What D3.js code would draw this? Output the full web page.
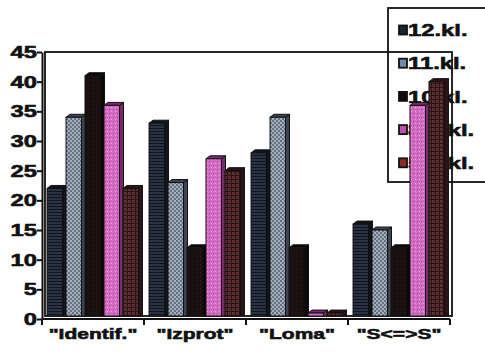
<!DOCTYPE html>
<html>
<head>
<meta charset="utf-8">
<script src="https://cdn.jsdelivr.net/npm/d3@7"></script>
<style>
  body { margin: 0; background: #fff; }
  text { font-family: Arial, "Liberation Sans", sans-serif; font-weight: bold; fill: #111; stroke: #111; stroke-width: 0.6px; }
</style>
</head>
<body>
<div id="chart"></div>
<script>
// --- DATA ---
const categories = ['"Identif."', '"Izprot"', '"Loma"', '"S<=>S"'];
const series = ["12.kl.", "11.kl.", "10.kl.", "8.9.kl.", "5.7.kl."];
const v12 = [22, 33, 28, 16];
const v11 = [34, 23, 34, 15];
const v10 = [41, 12, 12, 12];
const v89 = [36, 27, 1, 36];
const v57 = [22, 25, 1, 40];
const yTicks = [0, 5, 10, 15, 20, 25, 30, 35, 40, 45];

const values = [v12, v11, v10, v89, v57];

// --- SETUP ---
const W = 485, H = 354;
const pLeft = 42, pRight = 450, pTop = 52, pBottom = 319;
const depth = 4, rise = 3;
const stretch = 1.4; // scanned chart text is wide

const svg = d3.select("#chart").append("svg")
  .attr("width", W).attr("height", H);

const defs = svg.append("defs");

// put text at (tx, ty) and widen it horizontally
function placeWide(sel, tx, ty) {
  sel.attr("x", 0).attr("y", 0)
    .attr("transform", (d, i) => `translate(${tx(d, i)},${ty(d, i)}) scale(${stretch},1)`);
}

// patterns (fills of the old printed chart)
function pattern(id, size, bg, draw) {
  const p = defs.append("pattern").attr("id", id)
    .attr("patternUnits", "userSpaceOnUse").attr("width", size).attr("height", size);
  p.append("rect").attr("width", size).attr("height", size).attr("fill", bg);
  draw(p);
}
pattern("p12", 3, "#2a3344", p => p.append("rect").attr("y", 2).attr("width", 3).attr("height", 1).attr("fill", "#10141c"));
pattern("p11", 4, "#a2aebb", p => {
  p.append("circle").attr("cx", 1).attr("cy", 1).attr("r", 0.9).attr("fill", "#4a5666");
  p.append("circle").attr("cx", 3).attr("cy", 3).attr("r", 0.9).attr("fill", "#4a5666");
});
pattern("p10", 4, "#1a1012", p => p.append("rect").attr("width", 1).attr("height", 1).attr("fill", "#2c1c1e"));
pattern("p89", 4, "#d46cc4", p => {
  p.append("rect").attr("x", 1).attr("y", 1).attr("width", 1).attr("height", 1).attr("fill", "#a8409a");
  p.append("rect").attr("x", 3).attr("y", 3).attr("width", 1).attr("height", 1).attr("fill", "#e9a0de");
});
pattern("p57", 4, "#5c2e30", p => {
  p.append("rect").attr("y", 3).attr("width", 4).attr("height", 1).attr("fill", "#2a1416");
  p.append("rect").attr("x", 3).attr("width", 1).attr("height", 4).attr("fill", "#2a1416");
});
const fills = ["url(#p12)", "url(#p11)", "url(#p10)", "url(#p89)", "url(#p57)"];
const sideCol = ["#10141c", "#3c4652", "#0c0808", "#7a2a6e", "#2a1416"];
const swatch = ["#1c2535", "#6f8aa6", "#140c0c", "#c050b0", "#8a2a2a"];

// --- LEGEND (behind the plot) ---
const legend = svg.append("g");
legend.append("rect").attr("x", 388).attr("y", 8).attr("width", 110).attr("height", 174)
  .attr("fill", "#fff").attr("stroke", "#111").attr("stroke-width", 1.8);
legend.selectAll("rect.sw").data(series).join("rect").attr("class", "sw")
  .attr("x", 399).attr("y", (d, i) => 30 + i * 33.2 - 4.5).attr("width", 8).attr("height", 9)
  .attr("fill", (d, i) => swatch[i]).attr("stroke", "#111").attr("stroke-width", 1.8);
legend.selectAll("text").data(series).join("text")
  .attr("dy", "0.36em").style("font-size", "17px").text(d => d)
  .call(placeWide, () => 408, (d, i) => 30 + i * 33.2);

// --- SCALES ---
const x = d3.scaleBand().domain(categories).range([pLeft, pRight]).paddingInner(0.04).paddingOuter(0.02);
const xs = d3.scaleBand().domain(series).range([0, x.bandwidth() - depth + 1]).paddingInner(0);
const y = d3.scaleLinear().domain([0, 45]).range([pBottom, pTop]);

// back frame
svg.append("rect").attr("x", pLeft + 3).attr("y", pTop).attr("width", pRight - pLeft - 1).attr("height", pBottom - pTop - 3)
  .attr("fill", "none").attr("stroke", "#111").attr("stroke-width", 1.8);

// --- BARS (pseudo 3D) ---
const bw = xs.bandwidth() - 3.5;
const bars = svg.append("g");
categories.forEach((c, ci) => {
  series.forEach((s, si) => {
    const v = values[si][ci];
    const x0 = x(c) + xs(s) + 3, y0 = y(v), yb = pBottom - 3;
    const g = bars.append("g");
    g.append("polygon")
      .attr("points", [[x0 + bw, yb], [x0 + bw, y0], [x0 + bw + depth, y0 - rise], [x0 + bw + depth, yb]].join(" "))
      .attr("fill", sideCol[si]).attr("stroke", "#111").attr("stroke-width", 1);
    g.append("polygon")
      .attr("points", [[x0, y0], [x0 + depth, y0 - rise], [x0 + bw + depth, y0 - rise], [x0 + bw, y0]].join(" "))
      .attr("fill", sideCol[si]).attr("stroke", "#111").attr("stroke-width", 1);
    g.append("rect").attr("x", x0).attr("y", y0).attr("width", bw).attr("height", Math.max(0, yb - y0))
      .attr("fill", fills[si]).attr("stroke", "#111").attr("stroke-width", 1);
  });
});

// --- AXES ---
const yAxis = svg.append("g").attr("transform", `translate(${pLeft},0)`)
  .call(d3.axisLeft(y).tickValues(yTicks).tickSize(5).tickSizeOuter(0).tickPadding(2));
yAxis.select(".domain").attr("stroke", "#111").attr("stroke-width", 2);
yAxis.selectAll(".tick line").attr("stroke", "#111").attr("stroke-width", 2);
yAxis.selectAll("text").style("font-size", "17px").style("font-family", "Arial, 'Liberation Sans', sans-serif")
  .style("font-weight", "bold").attr("fill", "#111")
  .call(placeWide, () => -5, () => 0);

svg.append("line").attr("x1", pLeft).attr("x2", pRight).attr("y1", pBottom).attr("y2", pBottom)
  .attr("stroke", "#111").attr("stroke-width", 2);
const bounds = categories.map(c => x(c) - x.step() * x.paddingInner() / 2).concat([pRight]);
bounds[0] = pLeft;
svg.append("g").selectAll("line").data(bounds).join("line")
  .attr("x1", d => d).attr("x2", d => d).attr("y1", pBottom).attr("y2", pBottom + 6)
  .attr("stroke", "#111").attr("stroke-width", 2);
svg.append("g").selectAll("text").data(categories).join("text")
  .attr("text-anchor", "middle").style("font-size", "15px").text(d => d)
  .call(placeWide, d => x(d) + x.bandwidth() / 2, () => 339);
</script>
</body>
</html>
